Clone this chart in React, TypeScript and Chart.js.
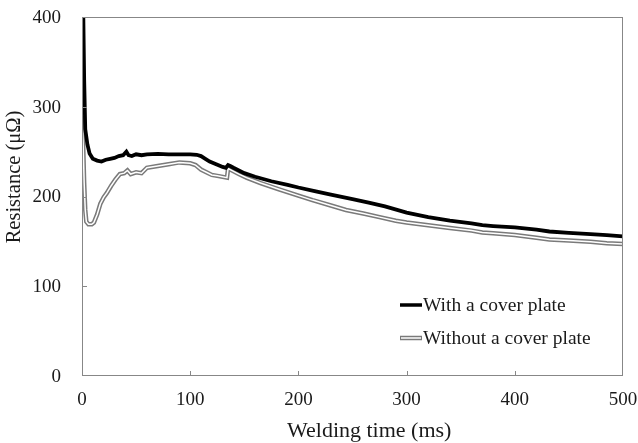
import React, { useEffect, useRef } from "react";
import { Chart, registerables } from "chart.js";

Chart.register(...registerables);

// ---- data ----
const xTickValues = [0, 100, 200, 300, 400, 500];
const yTickValues = [0, 100, 200, 300, 400];

const withTimes = [
  0, 1, 2, 3, 5, 7, 10, 14, 18, 22, 26, 30, 34, 38, 41, 43, 46, 50, 55, 60,
  70, 80, 90, 100, 106, 110, 114, 118, 124, 130, 133, 135, 137, 140, 150, 160,
  175, 190, 200, 215, 230, 250, 266, 280, 300, 320, 340, 360, 370, 380, 400,
  420, 432, 450, 470, 485, 500,
];
const withValues = [
  430, 420, 330, 275, 258, 248, 242, 240, 239, 241, 242, 243, 245, 246, 250,
  246, 245, 247, 246, 247, 247.5, 247, 247, 247, 246.5, 245, 242, 239, 236,
  233, 232, 235, 234, 232, 226, 222, 217, 213, 210, 206, 202, 197, 193, 189,
  182, 177, 173, 170, 168, 167, 165.5, 163, 161, 159.5, 158, 157, 155.5,
];

const withoutTimes = [
  0, 1, 2, 3, 4, 6, 9, 11, 14, 17, 20, 23, 27, 31, 35, 39, 42, 45, 50, 55, 60,
  70, 80, 90, 100, 105, 110, 115, 120, 125, 134, 135, 137, 145, 152, 165, 182,
  200, 213, 230, 244, 260, 275, 290, 300, 320, 340, 360, 370, 380, 400, 420,
  432, 450, 470, 485, 500,
];
const withoutValues = [
  290, 260, 215, 185, 172, 169, 169, 171, 180, 192, 199, 204, 212, 219, 225,
  226, 229, 225, 227, 226, 232, 234, 236, 238, 237, 235, 230, 227, 224, 223,
  221, 231, 230, 225, 221, 215, 208, 201, 196, 190, 185, 181, 177, 173, 171,
  168, 165, 162, 160, 159, 157, 154, 152, 151, 149.5, 148, 147,
];

const seriesLabels = ["With a cover plate", "Without a cover plate"];
const xTitle = "Welding time (ms)";
const yTitle = "Resistance (μΩ)";

const SERIF = "'Liberation Serif', 'Times New Roman', serif";
const AXIS_GRAY = "#878787";
const LINE_GRAY = "#7a7a7a";
const TEXT = "#1a1a1a";

const decorPlugin = {
  id: "decor",
  afterDatasetsDraw(chart: any) {
    const { ctx, chartArea: a, scales } = chart;
    const xs = scales.x;
    const ys = scales.y;
    ctx.save();
    // frame
    ctx.strokeStyle = AXIS_GRAY;
    ctx.lineWidth = 1;
    ctx.strokeRect(a.left + 0.5, a.top + 0.5, a.right - a.left - 1, a.bottom - a.top - 1);
    // inward ticks
    ctx.beginPath();
    xTickValues.forEach((v) => {
      if (v === 0 || v === 500) return;
      const px = Math.round(xs.getPixelForValue(v)) + 0.5;
      ctx.moveTo(px, a.bottom);
      ctx.lineTo(px, a.bottom - 5);
    });
    yTickValues.forEach((v) => {
      if (v === 0 || v === 400) return;
      const py = Math.round(ys.getPixelForValue(v)) + 0.5;
      ctx.moveTo(a.left, py);
      ctx.lineTo(a.left + 5, py);
    });
    ctx.stroke();

    // tick labels
    ctx.fillStyle = TEXT;
    ctx.font = `19px ${SERIF}`;
    ctx.textAlign = "center";
    ctx.textBaseline = "middle";
    xTickValues.forEach((v) => {
      ctx.fillText(String(v), xs.getPixelForValue(v), a.bottom + 24);
    });
    ctx.textAlign = "right";
    yTickValues.forEach((v) => {
      ctx.fillText(String(v), a.left - 21, ys.getPixelForValue(v) + 1);
    });

    // axis titles
    ctx.font = `22px ${SERIF}`;
    ctx.textAlign = "left";
    ctx.textBaseline = "alphabetic";
    ctx.fillText(xTitle, 287, 437);

    ctx.save();
    ctx.translate(15, 177);
    ctx.rotate(-Math.PI / 2);
    ctx.font = `20.5px ${SERIF}`;
    ctx.textAlign = "center";
    ctx.textBaseline = "middle";
    ctx.fillText(yTitle, 0, 0);
    ctx.restore();

    // legend
    const lx0 = 400;
    const lx1 = 422;
    const ly = [305, 338];
    ctx.lineCap = "butt";
    ctx.strokeStyle = "#000";
    ctx.lineWidth = 3.5;
    ctx.beginPath();
    ctx.moveTo(lx0, ly[0]);
    ctx.lineTo(lx1, ly[0]);
    ctx.stroke();
    ctx.strokeStyle = LINE_GRAY;
    ctx.lineWidth = 4.5;
    ctx.beginPath();
    ctx.moveTo(lx0, ly[1]);
    ctx.lineTo(lx1, ly[1]);
    ctx.stroke();
    ctx.strokeStyle = "#fff";
    ctx.lineWidth = 1.5;
    ctx.beginPath();
    ctx.moveTo(lx0 + 1, ly[1]);
    ctx.lineTo(lx1 - 1, ly[1]);
    ctx.stroke();

    ctx.fillStyle = TEXT;
    ctx.font = `19.5px ${SERIF}`;
    ctx.textAlign = "left";
    ctx.textBaseline = "middle";
    ctx.fillText(seriesLabels[0], lx1 + 1, ly[0] + 1);
    ctx.fillText(seriesLabels[1], lx1 + 1, ly[1] + 1);
    ctx.restore();
  },
};

export default function App() {
  const canvasRef = useRef<HTMLCanvasElement | null>(null);

  useEffect(() => {
    if (!canvasRef.current) return;
    const withData = withTimes.map((t, i) => ({ x: t, y: withValues[i] }));
    const withoutData = withoutTimes.map((t, i) => ({ x: t, y: withoutValues[i] }));

    const chart = new Chart(canvasRef.current, {
      type: "line",
      data: {
        datasets: [
          {
            label: seriesLabels[1] + " outline",
            data: withoutData,
            borderColor: LINE_GRAY,
            borderWidth: 4.5,
            pointRadius: 0,
            tension: 0,
            order: 3,
          },
          {
            label: seriesLabels[1],
            data: withoutData,
            borderColor: "#ffffff",
            borderWidth: 1.5,
            pointRadius: 0,
            tension: 0,
            order: 2,
          },
          {
            label: seriesLabels[0],
            data: withData,
            borderColor: "#000000",
            borderWidth: 3.8,
            pointRadius: 0,
            tension: 0,
            order: 1,
          },
        ],
      },
      options: {
        animation: false,
        responsive: true,
        maintainAspectRatio: false,
        layout: { padding: { top: 17, right: 15, left: 0, bottom: 0 } },
        plugins: {
          legend: { display: false },
          tooltip: { enabled: false },
        },
        scales: {
          x: {
            type: "linear",
            min: 0,
            max: 500,
            border: { display: false },
            grid: { display: false, drawTicks: false },
            ticks: { display: false, stepSize: 100 },
            afterFit: (s: any) => {
              s.height = 67;
            },
          },
          y: {
            type: "linear",
            min: 0,
            max: 400,
            border: { display: false },
            grid: { display: false, drawTicks: false },
            ticks: { display: false, stepSize: 100 },
            afterFit: (s: any) => {
              s.width = 82;
            },
          },
        },
      },
      plugins: [decorPlugin],
    });
    return () => chart.destroy();
  }, []);

  return (
    <div style={{ position: "absolute", left: 0, top: 0, width: 638, height: 443, background: "#fff" }}>
      <canvas ref={canvasRef} />
    </div>
  );
}
